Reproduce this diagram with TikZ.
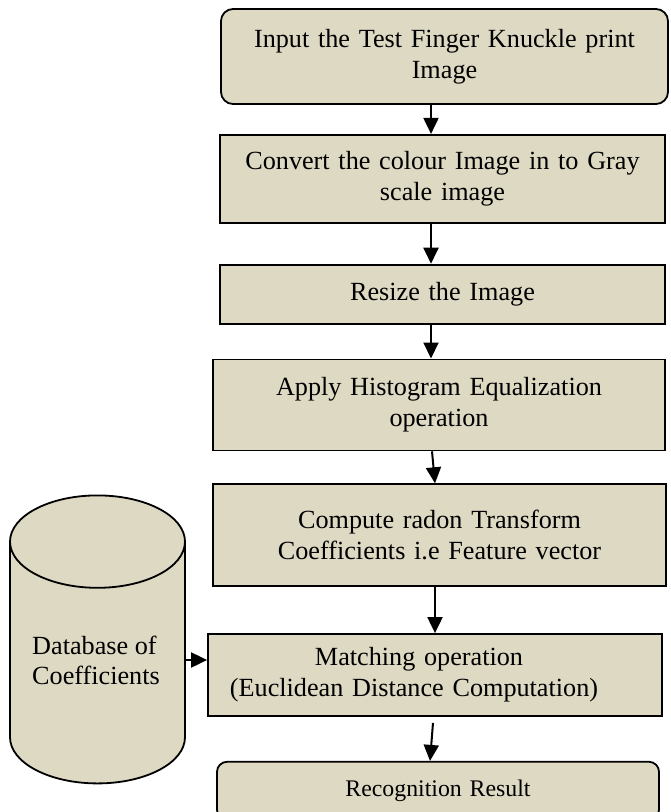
\documentclass[tikz,border=0pt]{standalone}
\usepackage{fontspec}
\setmainfont{Liberation Serif}
\usetikzlibrary{shapes.geometric,positioning,arrows.meta}
\definecolor{boxfill}{HTML}{DDD9C3}

\begin{document}
\begin{tikzpicture}[x=1pt, y=1pt,
    procbox/.style={rectangle, draw=black, line width=1.8pt, fill=boxfill, inner xsep=0pt, inner ysep=0pt, text centered, font=\fontsize{26.2pt}{31pt}\selectfont},
    flow/.style={-{Triangle[length=16pt,width=15pt]}, line width=2pt, black}]
    \useasboundingbox (0,0) rectangle (670,-812);

    % Processing chain - top to bottom
    \node [procbox, rounded corners=12pt, text width=447pt, minimum height=95pt] (input) at (444.5,-56.5) {
        Input the Test Finger Knuckle print\\
        Image
    };
    \node [procbox, text width=445pt, minimum height=88pt, below=29pt of input, xshift=-2pt] (gray) {
        Convert the colour Image in to Gray\\
        scale image
    };
    \node [procbox, text width=445pt, minimum height=59pt, below=40pt of gray] (resize) {
        Resize the Image
    };
    \node [procbox, text width=452pt, minimum height=91pt, below=34pt of resize, xshift=-3.5pt] (histeq) {
        Apply Histogram Equalization\\
        operation
    };
    \node [procbox, text width=453pt, minimum height=102pt, below=32pt of histeq, xshift=0.5pt] (radon) {
        Compute radon Transform\\
        Coefficients i.e Feature vector
    };
    \node [procbox, text width=454pt, minimum height=82pt, below=46pt of radon, xshift=-4.5pt] (match) {
        Matching operation\rule{32pt}{0pt}\\
        (Euclidean Distance Computation)\rule{42pt}{0pt}
    };
    \node [procbox, rounded corners=10pt, text width=442pt, minimum height=58pt, below=44pt of match, xshift=3pt, font=\fontsize{23.8pt}{28pt}\selectfont] (result) {
        Recognition Result
    };

    % Database of stored coefficients - to the left
    \node [cylinder, shape border rotate=90, aspect=1.05, inner sep=44pt, draw=black, line width=1.8pt, fill=boxfill, minimum width=175pt, minimum height=288pt] (db) at (97.5,-683) {};
    \node [align=left, inner sep=0pt, font=\fontsize{26.2pt}{30pt}\selectfont] (dbtext) at (96,-660) {Database of\\Coefficients};

    % Flow arrows
    \draw [flow] ([xshift=-13.5pt]input.south) -- ([xshift=-11.5pt]gray.north);
    \draw [flow] ([xshift=-11.5pt]gray.south) -- ([xshift=-11.5pt]resize.north);
    \draw [flow] ([xshift=-11.5pt]resize.south) -- ([xshift=-8pt]histeq.north);
    \draw [flow] ([xshift=-7pt]histeq.south) -- ([xshift=-4.5pt]radon.north);
    \draw [flow] ([xshift=-4.5pt]radon.south) -- (match.north);
    \draw [flow] ([xshift=-2pt, yshift=-6pt]match.south) -- ([xshift=-8pt]result.north);

    % Coefficients fed into matching
    \coordinate (dbin) at ([yshift=15pt]match.west);
    \draw [flow] (db.0 |- dbin) -- (dbin);

\end{tikzpicture}
\end{document}
